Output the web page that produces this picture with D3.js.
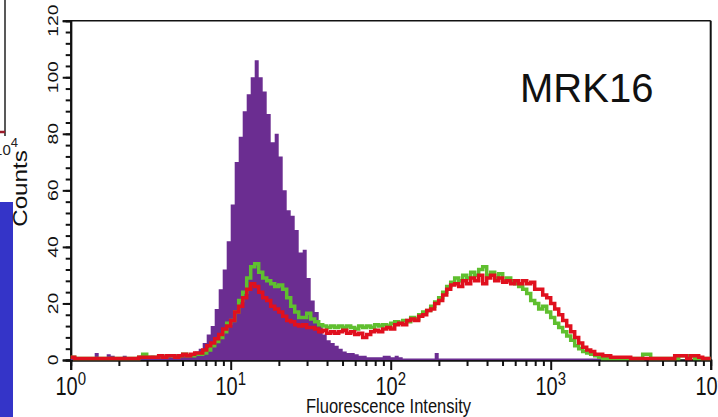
<!DOCTYPE html>
<html>
<head>
<meta charset="utf-8">
<script src="https://cdn.jsdelivr.net/npm/d3@7"></script>
<style>
  html, body { margin: 0; padding: 0; background: #fff; }
  svg { display: block; }
  text { font-family: "Liberation Sans", Arial, Helvetica, sans-serif; }
</style>
</head>
<body>
<svg id="chart" width="718" height="417"></svg>
<script>
// ---- data (histogram bins, each bin = 0.025 decade, starting at 10^0) ----
const binWidthDecades = 0.025;
const purpleCounts = [
  0.5,0.5,0.5,0.5,0.5,0.5,2.5,0.5,0.5,2,1.5,0.5,0.5,1.5,0.5,0.5,1,1.5,0.5,1,
  1.5,1,1,1.5,1.5,1,2,1.5,2,2,
  2.5,3,4,6,9,12,18,25,32,42,55,70,79,88,94,100,106,100,95,87,
  77,80,72,60,53,51,46,38,39,29,21,17,12,9,7,6,5,4,3,2.5,
  2.5,2,1.5,1.5,1,1,1,1,1.5,1.5,1,1.5,1,0.5,0.5,0.5,0.5,0.5,0.5,0.5,
  0.5,2.5,0.5,0.5,0.5,0.5,0.5,0.5,0.5,0.5,0.5,0.5,0.5,0.5,0.5,0.5,0.5,0.5,0.5,0.5,
  0.5,0.5,0.5,0.5,0.5,0.5,0.5,0.5,0.5,0.5,0.5,0.5,0.5,0.5,0.5,0.5,0.5,0.5,0.5,0.5,
  0.5,0.5,0.5,0.5,0.5,0.5,0,0,0,0,0,0,0,0,0,0,0,0,0,0,
  0,0,0,0,0,0,0,0,0,0
];
const greenCounts = [
  1,0.5,0.5,0.5,0.5,0.5,0.5,0.5,0.5,0.5,0.5,0.5,0.5,0.5,0.5,0.5,0.5,1,2,1,
  1,1,1.5,1,1.5,1.5,1,1.5,2,1.5,
  1.5,2,2,2.5,3.5,5,6.5,8,10,13,14,17,21,24,29,33,34,31,29,28,
  27,26,26.5,25,22,19,17,15,15,16.5,14.5,13.5,12.5,12,11.5,12,11.5,12,11.5,12,
  11.5,11,12,11.5,12,11.5,12.5,12,12.5,12,13,13.5,13,14,13.5,15,14.5,16,17,17.5,
  19,20.5,22,24,26,27.5,29,28,30,29,31,30,32,33,30,31,29,30.5,28,29,
  28,27,26,25,23.5,21,20,18,19,17,15,13,11.5,10,8.5,7,5,4,3,2.5,
  2,1.5,1,0.5,0.5,0.5,0.5,0.5,0.5,0.5,0.5,0.5,0.5,2,2,0.5,0.5,0.5,0.5,0.5,
  0.5,0.5,1.5,1.5,1.5,1.5,0.5,0.5,0.5,0.5
];
const redCounts = [
  1,0.5,0.5,0.5,0.5,0.5,0.5,0.5,0.5,0.5,0.5,0.5,0.5,0.5,0.5,0.5,0.5,1,1,1,
  1,1,1.5,1,1.5,1.5,1,1.5,2,1.5,
  2,2.5,2.5,3.5,5,6,7.5,9,11,12,14,17,19,22,25,27,26,24,22,21,
  19,18,17,15.5,14,13.5,12.5,12,12.5,11.5,11.5,11,10,10.5,9.5,10,9.5,10,10.5,9.5,
  10,9,9.5,8,9,10,10.5,10,11,11.5,11,12.5,13,12.5,14,14.5,14,15.5,16,17.5,
  18,20,21,23,25,26.5,27,26,28,27,29,28,30,27,29,30,28,29,27.5,28,
  27,28,27,28,27,27.5,25,25,23,22,20,18,16,14,12,10,8,6,4.5,3.5,
  3,2,2,1.5,1.5,1,1,1,1,1,0.5,0.5,0.5,0.5,0.5,0.5,0.5,0.5,0.5,0.5,
  0.5,1.5,1.5,1.5,0.5,1.5,1.5,1,0.5,0.5
];
const yTickValues = [0, 20, 40, 60, 80, 100, 120];
const xDecades = [0, 1, 2, 3, 4];
const xTitle = "Fluorescence Intensity";
const yTitle = "Counts";
const panelLabel = "MRK16";

// ---- layout ----
const svg = d3.select("#chart");
const plot = { left: 70.7, right: 710.7, top: 20.7, bottom: 360 };

const x = d3.scaleLog().domain([1, 1e4]).range([plot.left, plot.right]);
const y = d3.scaleLinear().domain([0, 120]).range([plot.bottom, plot.top]);

// ---- left-edge fragments of the neighbouring panel ----
svg.append("rect").attr("x", 0).attr("y", 202).attr("width", 13).attr("height", 215).attr("fill", "#3434c8");
svg.append("line").attr("x1", 5).attr("x2", 5).attr("y1", 0).attr("y2", 136)
  .attr("stroke", "#222").attr("stroke-width", 1.5);
svg.append("line").attr("x1", 0).attr("x2", 5).attr("y1", 132).attr("y2", 132)
  .attr("stroke", "#9a1c2a").attr("stroke-width", 2.5);
const frag = svg.append("text").attr("x", 18).attr("y", 155).attr("text-anchor", "end")
  .attr("font-size", 15).attr("fill", "#222");
frag.append("tspan").text("10");
frag.append("tspan").attr("font-size", 13).attr("dy", -8).text("4");

// ---- frame ----
svg.append("line").attr("x1", plot.left).attr("x2", plot.right).attr("y1", plot.top).attr("y2", plot.top)
  .attr("stroke", "#111").attr("stroke-width", 1.5);
svg.append("line").attr("x1", plot.right).attr("x2", plot.right).attr("y1", plot.top).attr("y2", plot.bottom)
  .attr("stroke", "#111").attr("stroke-width", 2);

// ---- y axis ----
const yMinor = d3.range(0, 121, 4);
const yAxisMinor = d3.axisLeft(y).tickValues(yMinor).tickSize(5).tickFormat("");
const yAxisMajor = d3.axisLeft(y).tickValues(yTickValues).tickSize(8).tickFormat("");
[yAxisMinor, yAxisMajor].forEach(ax => {
  const g = svg.append("g").attr("transform", `translate(${plot.left},0)`).call(ax);
  g.selectAll("line").attr("stroke", "#111").attr("stroke-width", 2);
  g.select(".domain").attr("stroke", "#111").attr("stroke-width", 2);
});
svg.append("g").selectAll("g").data(yTickValues).join("g")
  .attr("transform", d => `translate(57.5,${y(d)}) scale(1,1.38) rotate(-90)`)
  .append("text").attr("text-anchor", "middle").attr("font-size", 14).attr("fill", "#111")
  .text(d => d);

// ---- x axis ----
const xMinor = [];
for (let dcd = 0; dcd < 4; dcd++) for (let m = 2; m <= 9; m++) xMinor.push(m * Math.pow(10, dcd));
const xMajor = xDecades.map(d => Math.pow(10, d));
const xAxisMinor = d3.axisBottom(x).tickValues(xMinor).tickSize(6).tickFormat("");
const xAxisMajor = d3.axisBottom(x).tickValues(xMajor).tickSize(10).tickFormat("");
[xAxisMinor, xAxisMajor].forEach(ax => {
  const g = svg.append("g").attr("transform", `translate(0,${plot.bottom})`).call(ax);
  g.selectAll("line").attr("stroke", "#111").attr("stroke-width", 2);
  g.select(".domain").attr("stroke", "#111").attr("stroke-width", 2);
});
const xl = svg.append("g").selectAll("g").data(xDecades).join("g")
  .attr("transform", d => `translate(${x(Math.pow(10, d))},395) scale(1,1.25)`)
  .append("text").attr("text-anchor", "middle").attr("font-size", 20).attr("fill", "#111");
xl.append("tspan").text("10");
xl.append("tspan").attr("font-size", 15).attr("dy", -8).text(d => d);

svg.append("g").attr("transform", "translate(388.5,413) scale(1,1.22)")
  .append("text").attr("text-anchor", "middle").attr("font-size", 16.5).attr("fill", "#111").text(xTitle);
svg.append("g").attr("transform", "translate(27,188.5) scale(1,1.24) rotate(-90)")
  .append("text").attr("text-anchor", "middle").attr("font-size", 19.5).attr("fill", "#111").text(yTitle);

// ---- data ----
function toPoints(counts) {
  const pts = counts.map((c, i) => ({ v: Math.pow(10, i * binWidthDecades), c }));
  pts.push({ v: Math.pow(10, counts.length * binWidthDecades), c: counts[counts.length - 1] });
  return pts;
}
const area = d3.area().curve(d3.curveStepAfter)
  .x(d => x(d.v)).y0(y(0)).y1(d => y(d.c));
const line = d3.line().curve(d3.curveStepAfter)
  .x(d => x(d.v)).y(d => y(d.c));

svg.append("path").datum(toPoints(purpleCounts)).attr("d", area).attr("fill", "#6b2d91");
svg.append("path").datum(toPoints(greenCounts)).attr("d", line)
  .attr("fill", "none").attr("stroke", "#5fbf2f").attr("stroke-width", 3.5);
svg.append("path").datum(toPoints(redCounts)).attr("d", line)
  .attr("fill", "none").attr("stroke", "#e0101e").attr("stroke-width", 3.5);

// ---- panel label ----
svg.append("text").attr("x", 520).attr("y", 102).attr("font-size", 40).attr("fill", "#111").text(panelLabel);
</script>
</body>
</html>
